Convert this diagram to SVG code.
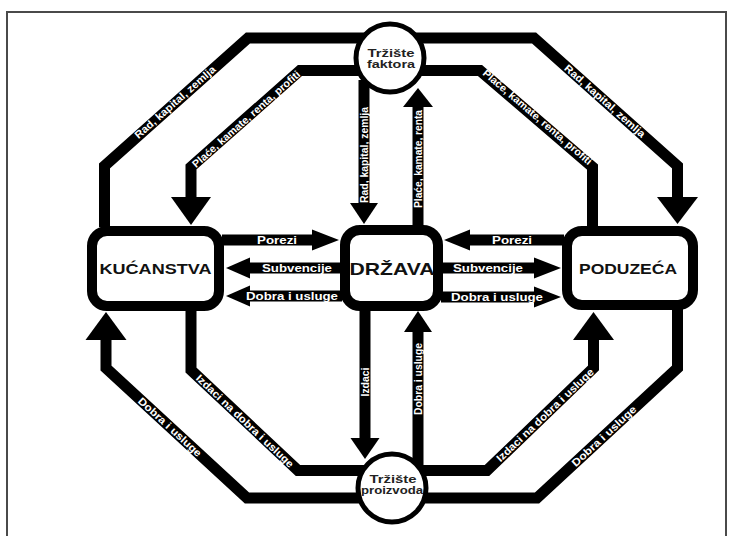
<svg xmlns="http://www.w3.org/2000/svg" width="733" height="536" viewBox="0 0 733 536">
<style>
.frame{fill:none;stroke:#4a4a4a;stroke-width:2}
.bar{fill:none;stroke:#000;stroke-width:11;stroke-linejoin:miter;stroke-miterlimit:10}
.head{fill:#000}
.box{fill:#fff;stroke:#000;stroke-width:10}
.circ{fill:#fff;stroke:#000;stroke-width:5}
.lbl{font-family:"Liberation Sans",Arial,Helvetica,sans-serif;font-weight:bold;font-size:10.5px;fill:#fff;text-anchor:middle}
.node{font-family:"Liberation Sans",Arial,Helvetica,sans-serif;font-weight:bold;fill:#111;text-anchor:middle}
.ctext{font-family:"Liberation Sans",Arial,Helvetica,sans-serif;font-weight:bold;font-size:10.5px;fill:#222;text-anchor:middle}
</style>
<rect width="733" height="536" fill="#fff"/>
<path class="frame" d="M7,536 V12 H726 V536"/>
<g id="connectors">
  <!-- top left outer: Kucanstva -> Trziste faktora -->
  <path class="bar" d="M104.5,227 V166 L248,38 H365"/>
  <!-- top left inner: Trziste faktora -> Kucanstva -->
  <path class="bar" d="M365,70.5 H300 L191,167 V198"/>
  <polygon class="head" points="171,197 211,197 191,225"/>
  <!-- top right outer: Trziste faktora -> Poduzeca -->
  <path class="bar" d="M415,38 H534 L677.5,166 V198"/>
  <polygon class="head" points="657,197 698,197 677.5,224"/>
  <!-- top right inner: Poduzeca -> Trziste faktora -->
  <path class="bar" d="M592.5,227 V167 L480,70.5 H415"/>
  <!-- center top -->
  <path class="bar" d="M364,80 V204"/>
  <polygon class="head" points="350,203 378,203 364,224"/>
  <path class="bar" d="M418,226 V106"/>
  <polygon class="head" points="403,107 433,107 418,88"/>
  <!-- horizontals left -->
  <path class="bar" d="M222,240 H313"/>
  <polygon class="head" points="312,229.5 312,250.5 339,240"/>
  <path class="bar" d="M342,268 H249"/>
  <polygon class="head" points="250,257.5 250,278.5 226,268"/>
  <path class="bar" d="M342,296 H249"/>
  <polygon class="head" points="250,285.5 250,306.5 226,296"/>
  <!-- horizontals right -->
  <path class="bar" d="M564,240 H469"/>
  <polygon class="head" points="470,229.5 470,250.5 444,240"/>
  <path class="bar" d="M441,268 H535"/>
  <polygon class="head" points="534,257.5 534,278.5 561,268"/>
  <path class="bar" d="M441,297 H535"/>
  <polygon class="head" points="534,286.5 534,307.5 561,297"/>
  <!-- center bottom -->
  <path class="bar" d="M365,308 V439"/>
  <polygon class="head" points="350.5,438 379.5,438 365,459"/>
  <path class="bar" d="M418,470 V331"/>
  <polygon class="head" points="404,332 432,332 418,311"/>
  <!-- bottom left outer: Trziste proizvoda -> Kucanstva -->
  <path class="bar" d="M365,498 H247 L106,368 V339"/>
  <polygon class="head" points="85.5,340 126.5,340 106,312"/>
  <!-- bottom left inner: Kucanstva -> Trziste proizvoda -->
  <path class="bar" d="M191,309 V370 L298,470.5 H365"/>
  <!-- bottom right inner: Trziste proizvoda -> Poduzeca -->
  <path class="bar" d="M415,470.5 H487 L593.5,368 V339"/>
  <polygon class="head" points="573,340 614,340 593.5,312"/>
  <!-- bottom right outer: Poduzeca -> Trziste proizvoda -->
  <path class="bar" d="M415,498 H537 L677.5,368 V308"/>

  <!-- labels -->
  <text class="lbl" transform="translate(175,102) rotate(-41.5)" y="3.7" textLength="104" lengthAdjust="spacingAndGlyphs">Rad, kapital, zemlja</text>
  <text class="lbl" transform="translate(246,119) rotate(-41.5)" y="3.7" textLength="140" lengthAdjust="spacingAndGlyphs">Plaće, kamate, renta, profiti</text>
  <text class="lbl" transform="translate(537.5,117) rotate(40.6)" y="3.7" textLength="140" lengthAdjust="spacingAndGlyphs">Plaće, kamate, renta, profiti</text>
  <text class="lbl" transform="translate(605,101) rotate(41.5)" y="3.7" textLength="104" lengthAdjust="spacingAndGlyphs">Rad, kapital, zemlja</text>
  <text class="lbl" transform="translate(364,155) rotate(-90)" y="3.7" textLength="96" lengthAdjust="spacingAndGlyphs">Rad, kapital, zemlja</text>
  <text class="lbl" transform="translate(418,159) rotate(-90)" y="3.7" textLength="98" lengthAdjust="spacingAndGlyphs">Plaće, kamate, renta</text>
  <text class="lbl" x="277" y="243.7" textLength="40" lengthAdjust="spacingAndGlyphs">Porezi</text>
  <text class="lbl" x="297" y="271.7" textLength="70" lengthAdjust="spacingAndGlyphs">Subvencije</text>
  <text class="lbl" x="292" y="299.7" textLength="92" lengthAdjust="spacingAndGlyphs">Dobra i usluge</text>
  <text class="lbl" x="512" y="243.7" textLength="40" lengthAdjust="spacingAndGlyphs">Porezi</text>
  <text class="lbl" x="488" y="271.7" textLength="70" lengthAdjust="spacingAndGlyphs">Subvencije</text>
  <text class="lbl" x="497" y="300.7" textLength="92" lengthAdjust="spacingAndGlyphs">Dobra i usluge</text>
  <text class="lbl" transform="translate(365,382) rotate(-90)" y="3.7" textLength="29" lengthAdjust="spacingAndGlyphs">Izdaci</text>
  <text class="lbl" transform="translate(418,379) rotate(-90)" y="3.7" textLength="72" lengthAdjust="spacingAndGlyphs">Dobra i usluge</text>
  <text class="lbl" transform="translate(170,427) rotate(42.7)" y="3.7" textLength="82" lengthAdjust="spacingAndGlyphs">Dobra i usluge</text>
  <text class="lbl" transform="translate(245,421) rotate(43.3)" y="3.7" textLength="130" lengthAdjust="spacingAndGlyphs">Izdaci na dobra i usluge</text>
  <text class="lbl" transform="translate(545,415) rotate(-43.6)" y="3.7" textLength="130" lengthAdjust="spacingAndGlyphs">Izdaci na dobra i usluge</text>
  <text class="lbl" transform="translate(604,436) rotate(-42.9)" y="3.7" textLength="84" lengthAdjust="spacingAndGlyphs">Dobra i usluge</text>
</g>
<g id="trziste-faktora">
  <circle class="circ" cx="390" cy="58" r="34"/>
  <text class="ctext" x="391" y="56.5" textLength="47" lengthAdjust="spacingAndGlyphs">Tržište</text>
  <text class="ctext" x="391" y="67.5" textLength="48" lengthAdjust="spacingAndGlyphs">faktora</text>
</g>
<g id="trziste-proizvoda">
  <circle class="circ" cx="392" cy="488" r="34"/>
  <text class="ctext" x="393" y="483" textLength="47" lengthAdjust="spacingAndGlyphs">Tržište</text>
  <text class="ctext" x="392" y="494" textLength="62" lengthAdjust="spacingAndGlyphs">proizvoda</text>
</g>
<g id="kucanstva">
  <rect class="box" x="92" y="231" width="127" height="75" rx="15"/>
  <text class="node" x="155.5" y="274" font-size="14" textLength="112" lengthAdjust="spacingAndGlyphs">KUĆANSTVA</text>
</g>
<g id="drzava">
  <rect class="box" x="345" y="230" width="93" height="76" rx="15"/>
  <text class="node" x="392" y="275" font-size="17" textLength="85" lengthAdjust="spacingAndGlyphs">DRŽAVA</text>
</g>
<g id="poduzeca">
  <rect class="box" x="567" y="231" width="126" height="74" rx="15"/>
  <text class="node" x="628" y="274" font-size="14" textLength="98" lengthAdjust="spacingAndGlyphs">PODUZEĆA</text>
</g>
</svg>
